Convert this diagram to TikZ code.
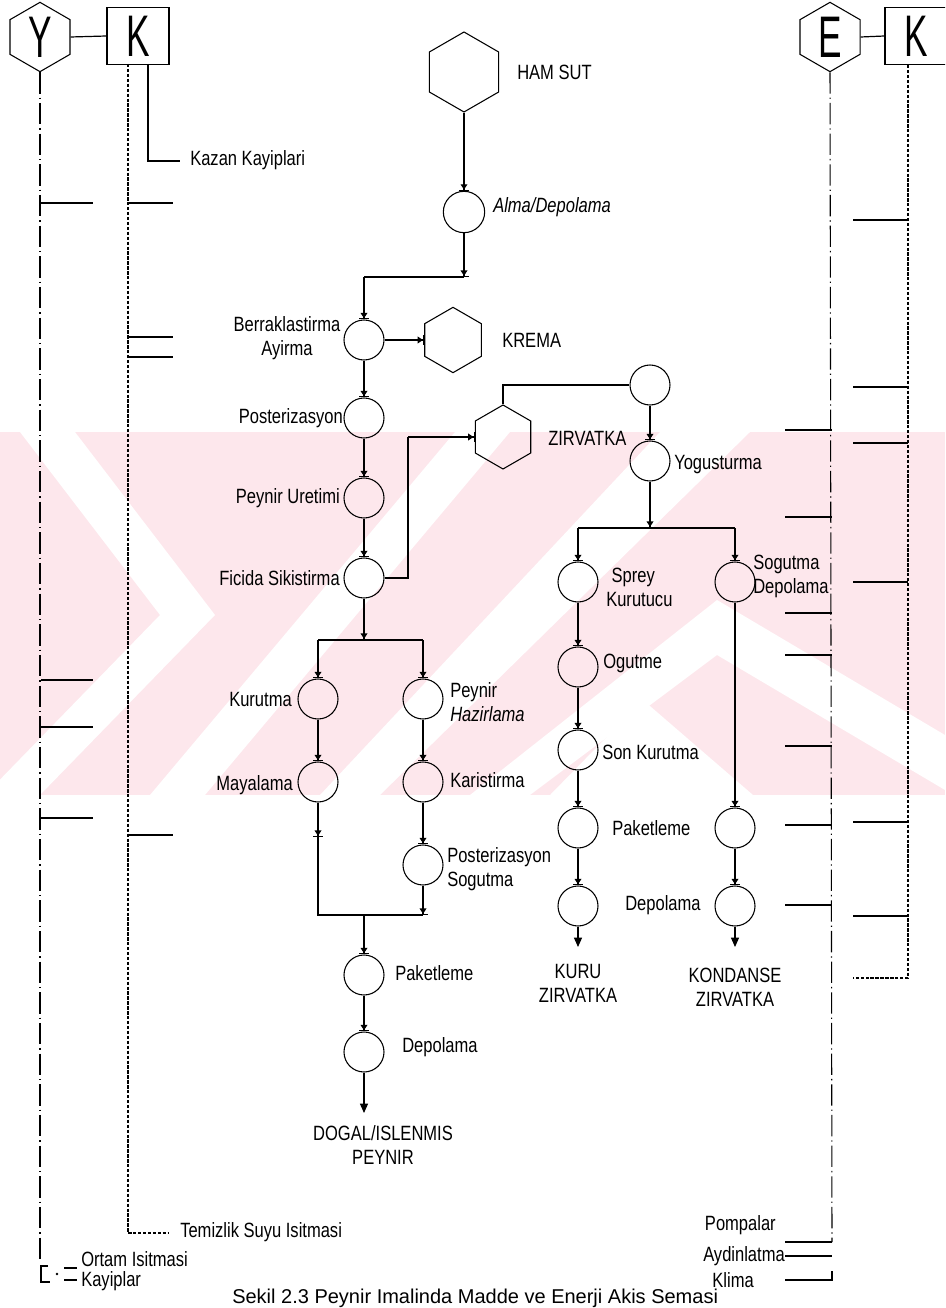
\documentclass[tikz,border=0pt]{standalone}
\usepackage{fontspec}
\setmainfont{Liberation Sans}[FakeStretch=0.8]
\newfontfamily\bigf{Liberation Sans}[FakeStretch=0.6]
\newfontfamily\capf{Liberation Sans}
\usetikzlibrary{shapes.geometric,arrows.meta}
\definecolor{wmpink}{RGB}{253,231,236}
\begin{document}
\begin{tikzpicture}[x=0.75pt,y=-0.75pt,
  ln/.style={line width=0.9pt},
  proc/.style={circle,draw,line width=0.8pt,minimum size=30pt,inner sep=0pt},
  hexa/.style={regular polygon,regular polygon sides=6,shape border rotate=30,draw,line width=0.8pt,inner sep=0pt},
  bx/.style={draw,line width=0.8pt,inner sep=0pt},
  lab/.style={font=\fontsize{15.5}{18}\selectfont,inner sep=0pt},
  big/.style={font=\bigf\fontsize{44}{44}\selectfont,inner sep=0pt},
  fa/.style={line width=0.9pt,-{Triangle[length=4pt,width=5pt]Bar[width=7pt]}},
  ea/.style={line width=0.9pt,-{Triangle[length=7pt,width=6pt]}},
  dd/.style={line width=0.8pt,dash pattern=on 16pt off 3pt on 1pt off 3pt},
  kd/.style={line width=0.8pt,dash pattern=on 2.5pt off 1.2pt},
  wm/.style={fill=white,draw=none}]
\useasboundingbox (0,0) rectangle (945,1308);
\clip (0,0) rectangle (945,1308);
\fill[white] (0,0) rectangle (945,1308);

% ---------- watermark band ----------
\fill[wmpink] (0,432) rectangle (945,795);
\begin{scope}
\clip (0,432) rectangle (945,795);
\fill[wm] (20,432) -- (75,432) -- (215,615) -- (40,795) -- (-15,795) -- (160,615) -- cycle;
\fill[wm] (150,795) -- (205,795) -- (510,432) -- (455,432) -- cycle;
\fill[wm] (320,795) -- (380,795) -- (750,432) -- (660,432) -- cycle;
\fill[wm] (470,795) -- (717,600) -- (945,735) -- (945,790) -- (717,655) -- (530,795) -- cycle;
\fill[wm] (550,795) -- (643,700) -- (753,795) -- cycle;
\end{scope}

% ---------- left Y / K ----------
\node[hexa,minimum size=52pt] (yhex) at (40,37) {};
\node[big] (yl) at (40,37) {Y};
\node[bx,minimum width=46.5pt,minimum height=42.75pt] (kbox) at (138,36) {};
\node[big] (kl) at (kbox) {K};
\draw[ln] (yhex.east) -- (kbox.west);
\coordinate (ktop) at (128,64);
\coordinate (kbot) at (128,1233);
\coordinate (kend) at (168,1233);
\draw[kd] (ktop) -- (kbot) -- (kend);
\node[lab,anchor=west] (ltem) at (180,1232) {Temizlik Suyu Isitmasi};
\coordinate (kz1) at (148,64);
\coordinate (kz2) at (148,161);
\coordinate (kz3) at (180,161);
\draw[ln] (kz1) -- (kz2) -- (kz3);
\node[lab,anchor=west] (lkaz) at (190,160) {Kazan Kayiplari};
\coordinate (ybot) at (40,1262);
\draw[dd] (yhex.south) -- (ybot);
% ticks
\foreach \yy in {203,680,727,818} \draw[ln] (41,\yy) -- (93,\yy);
\foreach \yy in {203,337,357,835} \draw[ln] (128,\yy) -- (173,\yy);
% legend
\draw[ln] (48,1266) -- (41,1266) -- (41,1282) -- (50,1282);
\fill (57,1274) circle (1pt);
\draw[ln] (64,1268) -- (77,1268);
\draw[ln] (64,1280) -- (77,1280);
\node[lab,anchor=west] (lort) at (81,1259) {Ortam Isitmasi};
\node[lab,anchor=west] (lkay) at (81,1281) {Kayiplar};

% ---------- right E / K ----------
\node[hexa,minimum size=52pt] (ehex) at (830,37) {};
\node[big] (el) at (830,37) {E};
\node[bx,minimum width=46.5pt,minimum height=42.75pt] (kbox2) at (916,36) {};
\node[big] (kl2) at (kbox2) {K};
\draw[ln] (ehex.east) -- (kbox2.west);
\coordinate (eb) at (832,1242);
\coordinate (ebe) at (785,1242);
\draw[dd] (ehex.south) -- (eb);
\draw[ln] (eb) -- (ebe);
\coordinate (k2t) at (908,65);
\coordinate (k2b) at (908,978);
\coordinate (k2e) at (853,978);
\draw[kd] (k2t) -- (k2b) -- (k2e);
\foreach \yy in {430,517,613,655,746,825,905} \draw[ln] (785,\yy) -- (832,\yy);
\foreach \yy in {220,387,443,582,822,916} \draw[ln] (853,\yy) -- (908,\yy);
\node[lab,anchor=east] (lpom) at (776,1225) {Pompalar};
\node[lab,anchor=east] (layd) at (785,1256) {Aydinlatma};
\draw[ln] (785,1256) -- (832,1256);
\node[lab,anchor=east] (lkli) at (754,1280) {Klima};
\draw[ln] (785,1280) -- (832,1280) -- (832,1271);

% ---------- main flow ----------
\node[hexa,minimum size=60pt] (ham) at (464,72) {};
\node[lab,anchor=west] (lham) at (517,72) {HAM SUT};
\node[proc,minimum size=31pt] (alma) at (464,212) {};
\node[lab,anchor=west] (lalma) at (493,207) {\textit{Alma/Depolama}};
\draw[fa] (ham.south) -- (alma.north);
\coordinate (c1) at (464,277);
\coordinate (c1b) at (364,277);
\draw[fa] (alma.south) -- (c1);
\draw[ln] (c1) -- (c1b);

\node[proc] (berr) at (364,340) {};
\draw[fa] (c1b) -- (berr.north);
\node[lab,align=center] (lberr) at (287,338) {Berraklastirma\\Ayirma};
\node[hexa,minimum size=49pt] (krema) at (453,340) {};
\node[lab,anchor=west] (lkrema) at (502,340) {KREMA};
\draw[fa] (berr.east) -- (krema.west);

\node[proc] (post) at (364,418) {};
\node[lab,anchor=east] (lpost) at (343,418) {Posterizasyon};
\draw[fa] (berr.south) -- (post.north);
\node[proc] (peyu) at (364,498) {};
\node[lab,anchor=east] (lpeyu) at (340,498) {Peynir Uretimi};
\draw[fa] (post.south) -- (peyu.north);
\node[proc] (fici) at (364,578) {};
\node[lab,anchor=east] (lfici) at (340,578) {Ficida Sikistirma};
\draw[fa] (peyu.south) -- (fici.north);

\node[hexa,minimum size=48pt] (zirv) at (503,437) {};
\node[lab,anchor=west] (lzirv) at (548,438) {ZIRVATKA};
\coordinate (c2) at (408,578);
\coordinate (c3) at (408,437);
\draw[ln] (fici.east) -- (c2) -- (c3);
\draw[fa] (c3) -- (zirv.west);
\node[proc] (cz) at (650,385) {};
\coordinate (c4) at (503,385);
\draw[ln] (zirv.north) -- (c4) -- (cz.west);
\node[proc] (yog) at (650,461) {};
\node[lab,anchor=west] (lyog) at (674,465) {Yogusturma};
\draw[fa] (cz.south) -- (yog.north);
\coordinate (j1) at (650,528);
\coordinate (j1l) at (578,528);
\coordinate (j1r) at (735,528);
\draw[fa] (yog.south) -- (j1);
\draw[ln] (j1l) -- (j1r);

\node[proc] (spr) at (578,582) {};
\node[lab,align=left,anchor=west] (lspr) at (606,587) {\hspace*{4pt}Sprey\\Kurutucu};
\draw[fa] (j1l) -- (spr.north);
\node[proc] (sog) at (735,582) {};
\node[lab,align=left,anchor=west] (lsog) at (753,576) {Sogutma\\Depolama};
\draw[fa] (j1r) -- (sog.north);

\node[proc] (ogu) at (578,667) {};
\node[lab,anchor=west] (logu) at (603,663) {Ogutme};
\draw[fa] (spr.south) -- (ogu.north);
\node[proc] (sonk) at (578,750) {};
\node[lab,anchor=west] (lsonk) at (602,752) {Son Kurutma};
\draw[fa] (ogu.south) -- (sonk.north);
\node[proc] (pak2) at (578,828) {};
\node[lab,anchor=west] (lpak2) at (612,828) {Paketleme};
\draw[fa] (sonk.south) -- (pak2.north);
\node[proc] (dep2) at (578,906) {};
\node[lab,anchor=west] (ldep2) at (625,905) {Depolama};
\draw[fa] (pak2.south) -- (dep2.north);
\coordinate (e2) at (578,947);
\draw[ea] (dep2.south) -- (e2);
\node[lab,align=center] (lkuru) at (578,983) {KURU\\ZIRVATKA};

\node[proc] (pak3) at (735,828) {};
\draw[fa] (sog.south) -- (pak3.north);
\node[proc] (dep3) at (735,906) {};
\draw[fa] (pak3.south) -- (dep3.north);
\coordinate (e3) at (735,947);
\draw[ea] (dep3.south) -- (e3);
\node[lab,align=center] (lkond) at (735,987) {KONDANSE\\ZIRVATKA};

% left branch
\coordinate (j2) at (364,640);
\coordinate (j2l) at (318,640);
\coordinate (j2r) at (423,640);
\draw[fa] (fici.south) -- (j2);
\draw[ln] (j2l) -- (j2r);
\node[proc] (kur) at (318,699) {};
\node[lab,anchor=east] (lkur) at (292,699) {Kurutma};
\draw[fa] (j2l) -- (kur.north);
\node[proc] (phaz) at (423,699) {};
\node[lab,align=left,anchor=west] (lphaz) at (450,702) {Peynir\\\textit{Hazirlama}};
\draw[fa] (j2r) -- (phaz.north);
\node[proc] (maya) at (318,782) {};
\node[lab,anchor=east] (lmaya) at (293,785) {Mayalama};
\draw[fa] (kur.south) -- (maya.north);
\node[proc] (kari) at (423,782) {};
\node[lab,anchor=west] (lkari) at (450,780) {Karistirma};
\draw[fa] (phaz.south) -- (kari.north);
\node[proc] (pso) at (423,865) {};
\node[lab,align=left,anchor=west] (lpso) at (447,869) {Posterizasyon\\Sogutma};
\draw[fa] (kari.south) -- (pso.north);
\coordinate (m1) at (318,837);
\coordinate (j3l) at (318,915);
\coordinate (j3r) at (423,915);
\coordinate (j3) at (364,915);
\draw[fa] (maya.south) -- (m1);
\draw[ln] (m1) -- (j3l) -- (j3r);
\draw[fa] (pso.south) -- (j3r);
\node[proc] (pak1) at (364,975) {};
\node[lab,anchor=west] (lpak1) at (395,973) {Paketleme};
\draw[fa] (j3) -- (pak1.north);
\node[proc] (dep1) at (364,1052) {};
\node[lab,anchor=west] (ldep1) at (402,1047) {Depolama};
\draw[fa] (pak1.south) -- (dep1.north);
\coordinate (e1) at (364,1113);
\draw[ea] (dep1.south) -- (e1);
\node[lab,align=center] (ldog) at (383,1145) {DOGAL/ISLENMIS\\PEYNIR};

% caption
\node[font=\capf\fontsize{15}{17}\selectfont,inner sep=0pt,anchor=base west] (cap) at (232,1303) {Sekil 2.3 Peynir Imalinda Madde ve Enerji Akis Semasi};
\end{tikzpicture}
\end{document}
